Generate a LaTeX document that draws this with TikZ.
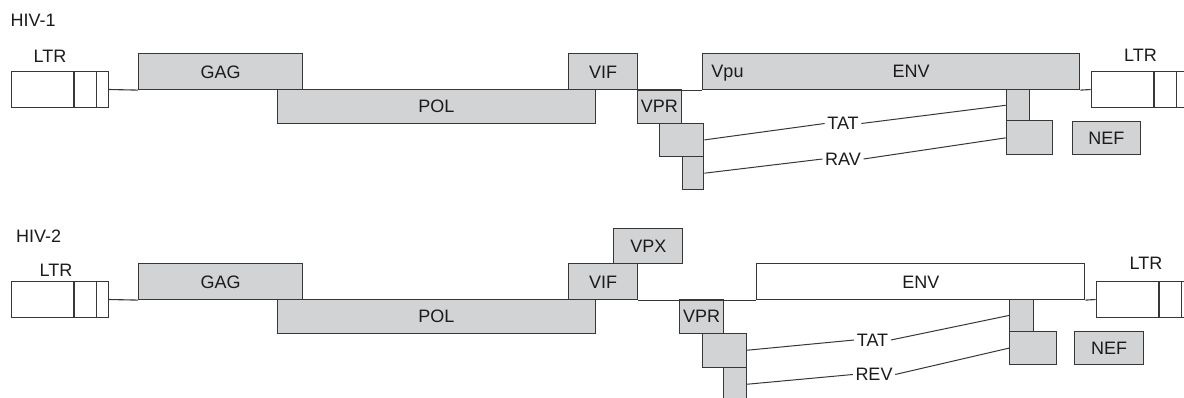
\documentclass[tikz,border=0pt]{standalone}
\usepackage{fontspec}
\setmainfont{Liberation Sans}
\usetikzlibrary{calc}
\definecolor{boxgray}{RGB}{210,211,213}
\definecolor{strokec}{RGB}{55,55,55}
\definecolor{txtc}{RGB}{28,26,27}
\tikzset{
  lbl/.style={inner sep=0pt, text=txtc, font=\fontsize{18}{21}\selectfont, text height=12.9pt, text depth=0pt},
  gbox/.style={lbl, draw=strokec, fill=boxgray, line width=1.1pt, anchor=north west},
  wbox/.style={gbox, fill=white},
  ltrbox/.style={draw=strokec, fill=white, line width=1.1pt, anchor=north west, inner sep=0pt, minimum width=97.3pt, minimum height=35.5pt},
  baseln/.style={draw=strokec, line width=1.1pt},
  conn/.style={draw=strokec, line width=1pt},
  clab/.style={lbl, inner xsep=2.5pt}
}
\begin{document}
\begin{tikzpicture}[x=1pt,y=-1pt]
\useasboundingbox (0,0) rectangle (1184,397);
\clip (0,0) rectangle (1184,397);
\fill[white] (0,0) rectangle (1184,397);

% ---------------- HIV-1 ----------------
\node[lbl, anchor=west] (hiv1) at (10.5,20) {HIV-1};
\node[lbl] (ltrl1t) at (50,56) {LTR};
\node[lbl] (ltrr1t) at (1140.5,55) {LTR};
\node[ltrbox] (ltrL1) at (10.7,71.2) {};
\node[ltrbox] (ltrR1) at (1090.7,71.2) {};

\node[gbox, minimum width=164.3pt, minimum height=35.7pt] (gag1) at (138,53.3) {GAG};
\node[gbox, minimum width=318.3pt, minimum height=33.7pt] (pol1) at (276.7,89) {POL};
\node[gbox, minimum width=68.4pt, minimum height=35.7pt] (vif1) at (568.3,53.3) {VIF};
\node[gbox, minimum width=44.3pt, minimum height=33.7pt] (vpr1) at (636.7,89) {VPR};
\node[gbox, minimum width=44pt, minimum height=33.3pt] (tat1a) at (659.3,122.7) {};
\node[gbox, minimum width=21.6pt, minimum height=33.3pt] (rav1a) at (681.7,156) {};
\node[gbox, minimum width=377pt, minimum height=35.7pt] (env1) at (702.3,53.3) {};
\node[lbl] (vpu1t) at (727.5,71.5) {Vpu};
\node[lbl] (env1t) at (911,71.5) {ENV};
\node[gbox, minimum width=23.3pt, minimum height=31.5pt] (tat1b) at (1005.7,89) {};
\node[gbox, minimum width=46pt, minimum height=34pt] (rav1b) at (1005.7,120.3) {};
\node[gbox, minimum width=68.3pt, minimum height=33.3pt] (nef1) at (1071.7,120.7) {NEF};

\draw[baseln] (ltrL1.east) -- (gag1.south west);
\draw[baseln] (vif1.south east) -- (env1.south west);
\draw[baseln] (env1.south east) -- (ltrR1.west);

\node[clab] (tatl1) at (843,123.5) {TAT};
\node[clab] (ravl1) at (843,159) {RAV};
\draw[conn] (tat1a.east) -- (tatl1.west);
\draw[conn] (tatl1.east) -- (tat1b.west);
\draw[conn] (rav1a.east) -- (ravl1.west);
\draw[conn] (ravl1.east) -- (rav1b.west);

% ---------------- HIV-2 ----------------
\node[lbl, anchor=west] (hiv2) at (16,236) {HIV-2};
\node[lbl] (ltrl2t) at (56,270) {LTR};
\node[lbl] (ltrr2t) at (1146,263.5) {LTR};
\node[ltrbox] (ltrL2) at (10.7,281.2) {};
\node[ltrbox] (ltrR2) at (1095.7,281.2) {};

\node[gbox, minimum width=164.3pt, minimum height=35.7pt] (gag2) at (138,263.3) {GAG};
\node[gbox, minimum width=318.3pt, minimum height=33.7pt] (pol2) at (276.7,299) {POL};
\node[gbox, minimum width=68.4pt, minimum height=35.7pt] (vif2) at (568.3,263.3) {VIF};
\node[gbox, minimum width=69pt, minimum height=35pt] (vpx2) at (613.3,228.3) {VPX};
\node[gbox, minimum width=44.3pt, minimum height=33.7pt] (vpr2) at (679,299) {VPR};
\node[gbox, minimum width=44pt, minimum height=34pt] (tat2a) at (701.7,332.7) {};
\node[gbox, minimum width=22.4pt, minimum height=34pt] (rev2a) at (723.3,366.7) {};
\node[wbox, minimum width=328pt, minimum height=35.7pt] (env2) at (756.3,263.3) {ENV};
\node[gbox, minimum width=23.4pt, minimum height=31.7pt] (tat2b) at (1009.3,299) {};
\node[gbox, minimum width=46.7pt, minimum height=33.6pt] (rev2b) at (1009.3,330.7) {};
\node[gbox, minimum width=68.4pt, minimum height=33.6pt] (nef2) at (1074.3,330.7) {NEF};

\draw[baseln] (ltrL2.east) -- (gag2.south west);
\draw[baseln] (vif2.south east) -- (env2.south west);
\draw[baseln] (env2.south east) -- (ltrR2.west);

\node[clab] (tatl2) at (872.5,340) {TAT};
\node[clab] (revl2) at (874,374.5) {REV};
\draw[conn] (tat2a.east) -- (tatl2.west);
\draw[conn] (tatl2.east) -- (tat2b.west);
\draw[conn] (rev2a.east) -- (revl2.west);
\draw[conn] (revl2.east) -- (rev2b.west);

% LTR dividers
\foreach \b in {ltrL1,ltrR1,ltrL2,ltrR2}{
  \draw[strokec, line width=1.1pt] ($(\b.north west)!0.643!(\b.north east)$) -- ($(\b.south west)!0.643!(\b.south east)$);
  \draw[strokec, line width=1.1pt] ($(\b.north west)!0.874!(\b.north east)$) -- ($(\b.south west)!0.874!(\b.south east)$);
}
\end{tikzpicture}
\end{document}
